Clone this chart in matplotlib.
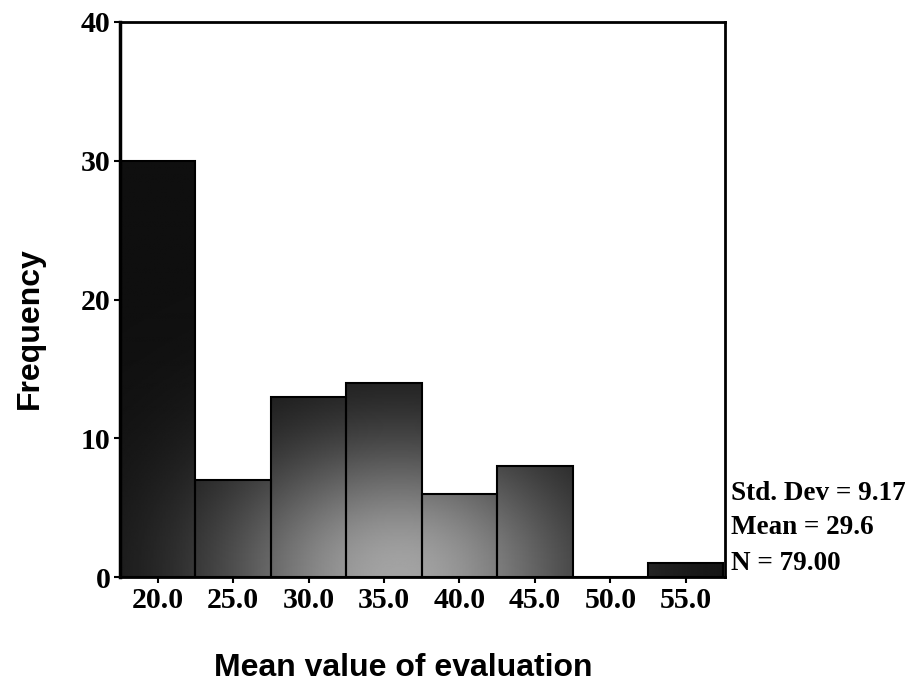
import numpy as np
import matplotlib
matplotlib.use("Agg")
import matplotlib.pyplot as plt

# histogram data (bin centres, width 5)
bin_centers = [20.0, 25.0, 30.0, 35.0, 40.0, 45.0, 50.0, 55.0]
counts = [30, 7, 13, 14, 6, 8, 0, 1]
x_tick_labels = ['20.0', '25.0', '30.0', '35.0', '40.0', '45.0', '50.0', '55.0']
y_ticks = [0, 10, 20, 30, 40]
stats_lines = ['Std. Dev = 9.17', 'Mean = 29.6', 'N = 79.00']
bin_width = 5.0

fig = plt.figure(figsize=(9.24, 6.88), dpi=100)
ax = fig.add_axes([120/924, 1 - 577/688, 605/924, 555/688])

xmin, xmax = 17.5, 57.6
ymin, ymax = 0, 40

# bars, filled with a dark shaded gradient (lighter near bottom centre)
bars = ax.bar(bin_centers, counts, width=bin_width, facecolor='none',
              edgecolor='black', linewidth=1.5, zorder=3)

gx = np.linspace(xmin, xmax, 400)
gy = np.linspace(ymin, ymax, 400)
XX, YY = np.meshgrid(gx, gy)
shade = 0.06 + 0.58 * np.exp(-((XX - 36.0) / 12.0) ** 2 - (YY / 10.0) ** 2)

for b in bars:
    if b.get_height() <= 0:
        continue
    im = ax.imshow(shade, extent=[xmin, xmax, ymin, ymax], origin='lower',
                   cmap='gray', vmin=0, vmax=1, aspect='auto', zorder=2,
                   interpolation='bilinear')
    im.set_clip_path(b)

ax.set_xlim(xmin, xmax)
ax.set_ylim(ymin, ymax)

# ticks
ax.set_xticks(bin_centers)
ax.set_xticklabels(x_tick_labels)
ax.set_yticks(y_ticks)
ax.set_yticklabels([str(v) for v in y_ticks])
for lab in ax.get_xticklabels() + ax.get_yticklabels():
    lab.set_fontfamily('Liberation Serif')
    lab.set_fontweight('bold')
    lab.set_fontsize(21.5)
ax.tick_params(axis='both', direction='out', length=4, width=1.5, pad=3)

for side in ['top', 'right', 'bottom']:
    ax.spines[side].set_linewidth(2)
ax.spines['left'].set_linewidth(2.5)

# axis labels
fig.text(30/924, 1 - 328/688, 'Frequency', rotation=90, ha='center', va='center',
         fontfamily='Liberation Sans', fontweight='bold', fontsize=23)
fig.text(403/924, 1 - 668/688, 'Mean value of evaluation', ha='center', va='center',
         fontfamily='Liberation Sans', fontweight='bold', fontsize=23)

# stats box
for i, line in enumerate(stats_lines):
    fig.text(731/924, 1 - (493 + 35 * i)/688, line, ha='left', va='center',
             fontfamily='Liberation Serif', fontweight='bold', fontsize=19.5)

fig.savefig('out.png', dpi=100)
